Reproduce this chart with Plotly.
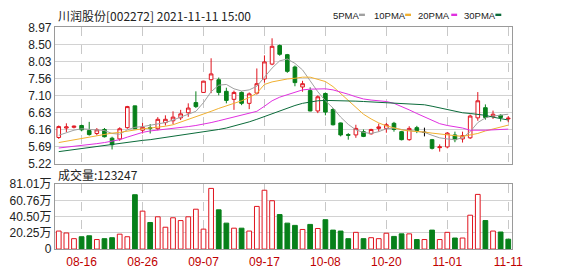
import plotly.graph_objects as go

# ---------------- data ----------------
dates = ["08-11", "08-12", "08-13", "08-16", "08-17", "08-18", "08-19", "08-20", "08-23", "08-24",
         "08-25", "08-26", "08-27", "08-30", "08-31", "09-01", "09-02", "09-03", "09-06", "09-07",
         "09-08", "09-09", "09-10", "09-13", "09-14", "09-15", "09-16", "09-17", "09-22", "09-23",
         "09-24", "09-27", "09-28", "09-29", "09-30", "10-08", "10-11", "10-12", "10-13", "10-14",
         "10-15", "10-18", "10-19", "10-20", "10-21", "10-22", "10-25", "10-26", "10-27", "10-28",
         "10-29", "11-01", "11-02", "11-03", "11-04", "11-05", "11-08", "11-09", "11-10", "11-11"]

opens = [5.94, 6.20, 6.22, 6.27, 6.13, 6.05, 6.16, 5.92, 5.90, 6.21,
         6.81, 6.14, 6.21, 6.18, 6.35, 6.40, 6.48, 6.62, 6.90, 7.18,
         7.53, 7.53, 7.21, 6.99, 7.18, 6.88, 7.16, 7.55, 7.96, 8.47,
         8.22, 7.88, 7.33, 7.23, 6.67, 7.15, 6.71, 6.34, 6.02, 6.01,
         6.10, 6.04, 6.19, 6.19, 6.33, 6.10, 5.88, 6.21, 6.08, 5.88,
         5.66, 5.68, 6.01, 5.90, 5.93, 6.48, 6.76, 6.52, 6.55, 6.45]
highs = [6.27, 6.33, 6.27, 6.29, 6.37, 6.20, 6.20, 5.96, 6.22, 6.81,
         6.81, 6.34, 6.31, 6.50, 6.55, 6.66, 6.70, 6.88, 7.21, 7.50,
         8.12, 7.59, 7.31, 7.23, 7.21, 7.18, 7.84, 8.20, 8.67, 8.50,
         8.24, 7.92, 7.50, 7.32, 7.10, 7.18, 6.75, 6.35, 6.06, 6.29,
         6.16, 6.18, 6.32, 6.34, 6.37, 6.12, 6.25, 6.26, 6.21, 5.90,
         5.75, 6.09, 6.10, 6.10, 6.57, 7.19, 6.85, 6.68, 6.58, 6.53]
lows = [5.90, 6.09, 6.19, 6.11, 5.99, 6.00, 5.94, 5.61, 5.85, 6.18,
        6.17, 6.05, 6.05, 6.14, 6.27, 6.31, 6.42, 6.51, 6.75, 7.17,
        7.16, 7.10, 6.88, 6.70, 6.83, 6.72, 7.12, 7.45, 7.93, 8.19,
        7.72, 7.35, 7.20, 6.66, 6.61, 6.55, 6.27, 5.97, 5.88, 5.93,
        5.95, 6.02, 6.10, 6.07, 6.10, 5.86, 5.85, 6.06, 5.97, 5.61,
        5.55, 5.64, 5.81, 5.80, 5.90, 6.40, 6.43, 6.45, 6.38, 6.36]
closes = [6.24, 6.23, 6.25, 6.15, 6.02, 6.15, 5.96, 5.74, 6.18, 6.79,
          6.18, 6.22, 6.19, 6.44, 6.44, 6.50, 6.59, 6.75, 6.79, 7.49,
          7.69, 7.18, 6.96, 7.18, 6.88, 7.14, 7.42, 8.02, 8.45, 8.23,
          7.76, 7.45, 7.42, 6.67, 7.06, 6.64, 6.29, 6.01, 6.00, 6.19,
          5.97, 6.16, 6.23, 6.29, 6.16, 5.88, 6.19, 6.13, 6.08, 5.64,
          5.68, 6.06, 5.88, 5.99, 6.53, 6.95, 6.49, 6.58, 6.49, 6.47]

ma5 = [6.00, 6.08, 6.14, 6.18, 6.17, 6.15, 6.13, 6.05, 6.03, 6.15,
       6.22, 6.24, 6.27, 6.30, 6.35, 6.42, 6.50, 6.58, 6.66, 6.90,
       7.20, 7.38, 7.40, 7.28, 7.22, 7.25, 7.35, 7.60, 7.85, 8.05,
       8.10, 7.98, 7.80, 7.50, 7.20, 6.95, 6.75, 6.50, 6.30, 6.15,
       6.08, 6.05, 6.10, 6.18, 6.20, 6.16, 6.14, 6.12, 6.08, 6.00,
       5.93, 5.90, 5.88, 5.93, 6.10, 6.35, 6.48, 6.53, 6.56, 6.58]
ma10 = [5.80, 5.84, 5.88, 5.92, 5.96, 6.00, 6.04, 6.06, 6.08, 6.12,
        6.16, 6.18, 6.20, 6.22, 6.25, 6.29, 6.36, 6.44, 6.52, 6.58,
        6.66, 6.74, 6.82, 6.88, 6.95, 7.04, 7.16, 7.40, 7.47, 7.52,
        7.55, 7.57, 7.60, 7.60, 7.55, 7.48, 7.34, 7.15, 6.98, 6.78,
        6.58, 6.45, 6.34, 6.26, 6.20, 6.15, 6.12, 6.11, 6.09, 6.06,
        6.03, 6.01, 5.99, 5.97, 6.00, 6.05, 6.12, 6.18, 6.23, 6.28]
ma20 = [5.65, 5.67, 5.70, 5.72, 5.74, 5.77, 5.80, 5.83, 5.88, 5.95,
        6.02, 6.08, 6.12, 6.14, 6.16, 6.18, 6.21, 6.24, 6.27, 6.30,
        6.35, 6.40, 6.45, 6.50, 6.55, 6.60, 6.66, 6.80, 6.95, 7.05,
        7.12, 7.20, 7.25, 7.27, 7.28, 7.28, 7.25, 7.20, 7.13, 7.06,
        7.00, 6.97, 6.95, 6.93, 6.88, 6.80, 6.70, 6.60, 6.50, 6.40,
        6.32, 6.27, 6.24, 6.20, 6.14, 6.13, 6.14, 6.15, 6.16, 6.17]
ma30 = [5.55, 5.58, 5.61, 5.63, 5.66, 5.69, 5.72, 5.74, 5.77, 5.80,
        5.83, 5.86, 5.88, 5.91, 5.94, 5.97, 6.00, 6.02, 6.05, 6.08,
        6.12, 6.16, 6.20, 6.25, 6.30, 6.37, 6.44, 6.52, 6.60, 6.68,
        6.76, 6.82, 6.88, 6.92, 6.95, 6.96, 6.96, 6.96, 6.95, 6.94,
        6.93, 6.92, 6.91, 6.90, 6.89, 6.88, 6.87, 6.86, 6.84, 6.80,
        6.75, 6.71, 6.66, 6.62, 6.60, 6.58, 6.55, 6.50, 6.45, 6.42]

# volume in 万 shares
volumes = [22.5, 20.1, 13.0, 15.4, 16.6, 11.9, 13.0, 14.2, 18.6, 15.4,
           67.9, 47.4, 33.2, 40.3, 27.3, 39.1, 35.6, 40.3, 49.8, 24.9,
           75.8, 49.0, 32.4, 26.1, 26.1, 22.5, 53.3, 73.5, 60.4, 43.1,
           32.4, 29.6, 24.5, 30.8, 25.7, 36.7, 23.7, 22.5, 13.0, 20.9,
           13.0, 14.2, 13.0, 19.8, 15.8, 19.0, 19.0, 11.9, 11.9, 23.7,
           11.9, 20.9, 13.8, 13.8, 42.3, 68.3, 35.6, 22.5, 21.3, 12.3247]
vol_up = [1, 1, 1, 0, 0, 1, 0, 0, 1, 1,
          0, 1, 0, 1, 1, 1, 1, 1, 1, 1,
          1, 0, 0, 1, 0, 1, 1, 1, 1, 0,
          0, 0, 1, 0, 1, 0, 0, 0, 0, 1,
          0, 1, 1, 1, 0, 0, 1, 0, 1, 0,
          1, 1, 0, 1, 1, 1, 0, 1, 0, 0]

tick_dates = ["08-16", "08-26", "09-07", "09-17", "10-08", "10-20", "11-01", "11-11"]
price_ticks = [5.22, 5.69, 6.16, 6.63, 7.10, 7.56, 8.03, 8.50, 8.97]
price_tick_text = ["5.22", "5.69", "6.16", "6.63", "7.10", "7.56", "8.03", "8.50", "8.97"]
vol_ticks = [0, 20.25, 40.50, 60.76, 81.01]
vol_tick_text = ["0", "20.25万", "40.50万", "60.76万", "81.01万"]
title_text = "川润股份[002272] 2021-11-11 15:00"
vol_label = "成交量:123247"
ma_names = ["5PMA", "10PMA", "20PMA", "30PMA"]

# ---------------- style ----------------
W, H = 578, 276
RED = "#e0141e"
GREEN = "#07801a"
MA_COLORS = ["#a0a0a0", "#f0b030", "#e030e0", "#0b6b3a"]
GRID = "#d2d2d2"
BORDER = "#9a9a9a"
NUMFONT = "Liberation Sans, Arial, sans-serif"
CJKFONT = "Noto Sans CJK SC, sans-serif"


def fx(px):
    return px / W


def fy(py):
    return 1 - py / H


fig = go.Figure()

N = len(dates)
main_idx = [i for i in range(N) if opens[i] != closes[i]]
flat_idx = [i for i in range(N) if opens[i] == closes[i]]


def sel(arr, idx):
    return [arr[i] for i in idx]


fig.add_trace(go.Candlestick(
    x=sel(dates, main_idx), open=sel(opens, main_idx), high=sel(highs, main_idx),
    low=sel(lows, main_idx), close=sel(closes, main_idx),
    increasing=dict(line=dict(color=RED, width=1), fillcolor="white"),
    decreasing=dict(line=dict(color=GREEN, width=1), fillcolor=GREEN),
    whiskerwidth=0, xaxis="x", yaxis="y", showlegend=False, hoverinfo="skip"))
if flat_idx:
    fig.add_trace(go.Candlestick(
        x=sel(dates, flat_idx), open=sel(opens, flat_idx), high=sel(highs, flat_idx),
        low=sel(lows, flat_idx), close=sel(closes, flat_idx),
        increasing=dict(line=dict(color="#000000", width=1), fillcolor="#000000"),
        decreasing=dict(line=dict(color="#000000", width=1), fillcolor="#000000"),
        whiskerwidth=0, xaxis="x", yaxis="y", showlegend=False, hoverinfo="skip"))

for ma, col in zip([ma5, ma10, ma20, ma30], MA_COLORS):
    fig.add_trace(go.Scatter(x=dates, y=ma, mode="lines", line=dict(color=col, width=1),
                             xaxis="x", yaxis="y", showlegend=False, hoverinfo="skip"))

fig.add_trace(go.Bar(
    x=dates, y=volumes, width=0.62,
    marker=dict(color=["white" if u else GREEN for u in vol_up],
                line=dict(color=[RED if u else GREEN for u in vol_up], width=1)),
    xaxis="x2", yaxis="y2", showlegend=False, hoverinfo="skip"))

xdom = [fx(56), fx(522)]
common_x = dict(domain=xdom, type="category", categoryorder="array", categoryarray=dates,
                range=[-0.5, N - 0.5], tickvals=tick_dates, showgrid=True, gridcolor="#c8c8c8",
                griddash="dash", gridwidth=1, showline=True, mirror=True, linecolor=BORDER,
                linewidth=1, zeroline=False, fixedrange=True)

fig.update_layout(
    width=W, height=H, margin=dict(l=0, r=0, t=0, b=0),
    paper_bgcolor="white", plot_bgcolor="white", showlegend=False,
    xaxis=dict(common_x, anchor="y", showticklabels=False, ticks="",
               rangeslider=dict(visible=False)),
    yaxis=dict(domain=[fy(165), fy(21.5)], range=[price_ticks[0], price_ticks[-1]],
               tickvals=price_ticks, ticktext=price_tick_text, showgrid=True, gridcolor=GRID,
               showline=True, mirror=True, linecolor=BORDER, zeroline=False, ticks="",
               tickfont=dict(family=NUMFONT, size=12, color="#222222"), anchor="x"),
    xaxis2=dict(common_x, anchor="y2", showticklabels=True, ticktext=tick_dates,
                ticks="outside", ticklen=2, tickcolor="rgba(0,0,0,0)",
                tickfont=dict(family=NUMFONT, size=12, color="#c00000")),
    yaxis2=dict(domain=[fy(255), fy(186.7)], range=[0, vol_ticks[-1]],
                tickvals=vol_ticks, ticktext=vol_tick_text, showgrid=True, gridcolor=GRID,
                showline=True, mirror=True, linecolor=BORDER, zeroline=False, ticks="",
                tickfont=dict(family=NUMFONT + ", Noto Sans CJK SC", size=12, color="#222222"),
                anchor="x2"),
    bargap=0.3,
    boxgap=0.32,
)

annotations = [
    dict(x=fx(57), y=fy(8.5), xref="paper", yref="paper", xanchor="left", yanchor="middle",
         text=title_text, showarrow=False, font=dict(family=CJKFONT, size=12, color="#222222")),
    dict(x=fx(57), y=fy(176), xref="paper", yref="paper", xanchor="left", yanchor="middle",
         text=vol_label, showarrow=False, font=dict(family=CJKFONT, size=12, color="#222222")),
]
legend_x = [337, 379, 424, 471]
dash_x = [366, 413, 460, 505]
shapes = []
for name, lx, dx, col in zip(ma_names, legend_x, dash_x, MA_COLORS):
    annotations.append(dict(x=fx(lx), y=fy(8.5), xref="paper", yref="paper", xanchor="left",
                            yanchor="middle", text=name, showarrow=False,
                            font=dict(family=NUMFONT, size=9.5, color="#222222")))
    shapes.append(dict(type="rect", xref="paper", yref="paper", x0=fx(dx), x1=fx(dx + 6),
                       y0=fy(9.5), y1=fy(7), fillcolor=col, line=dict(width=0)))
fig.update_layout(annotations=annotations, shapes=shapes)

fig.write_html("out.html")
